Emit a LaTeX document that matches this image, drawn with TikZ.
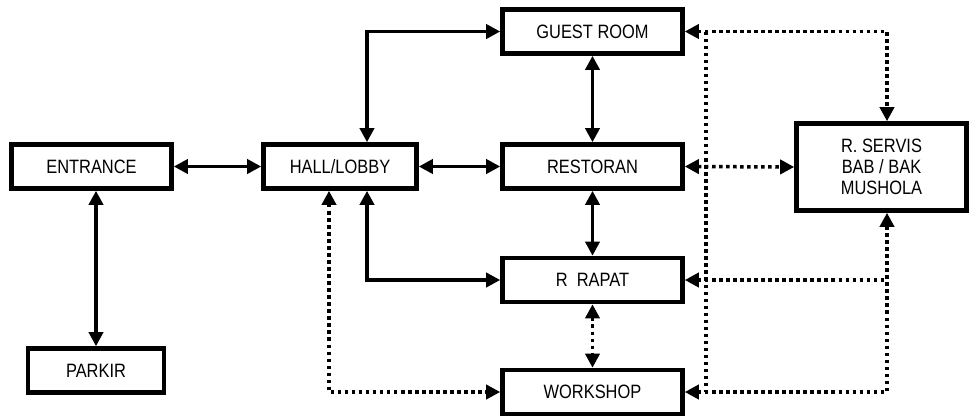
\documentclass[tikz,border=0pt]{standalone}
\usepackage{fontspec}
\setmainfont{Liberation Sans}[FakeStretch=0.85]
\usetikzlibrary{arrows.meta}

\tikzset{
  room/.style={draw=black, line width=2.6pt, fill=white, minimum height=0.88cm,
    align=center, font=\fontsize{11}{12}\selectfont},
  link/.style={line width=2pt, {Triangle[length=8pt,width=8pt]}-{Triangle[length=8pt,width=8pt]}},
  dotline/.style={line width=2pt, dash pattern=on 2pt off 2pt},
  dotlink/.style={dotline, {Triangle[length=8pt,width=8pt]}-{Triangle[length=8pt,width=8pt]}}
}

\begin{document}
\begin{tikzpicture}[x=0.02cm, y=-0.02cm]
  \useasboundingbox (0,0) rectangle (971,417);

  % rooms
  \node[room, minimum width=3.2cm]  (entrance) at (91.5,166.5) {ENTRANCE};
  \node[room, minimum width=2.72cm] (parkir)   at (96,370.5)   {PARKIR};
  \node[room, minimum width=3.06cm] (hall)     at (340,166.5)  {HALL/LOBBY};
  \node[room, minimum width=3.6cm]  (guest)    at (592.5,31.5) {GUEST ROOM};
  \node[room, minimum width=3.6cm]  (restoran) at (592.5,166.5) {RESTORAN};
  \node[room, minimum width=3.6cm]  (rapat)    at (592.5,280)  {R\ \ RAPAT};
  \node[room, minimum width=3.6cm]  (workshop) at (592.5,392)  {WORKSHOP};
  \node[room, minimum width=3.4cm, minimum height=1.74cm] (servis) at (881.5,167)
    {R. SERVIS\\BAB / BAK\\MUSHOLA};

  % helper columns
  \coordinate (hx) at (367,0);
  \coordinate (dx) at (329,0);
  \coordinate (sp) at (706,0);
  \coordinate (sx) at (887,0);

  % solid links
  \draw[link] (entrance) -- (hall);
  \draw[link] (parkir.north |- entrance.south) -- (parkir.north);
  \draw[link] (hall) -- (restoran);
  \draw[link] (hall.north -| hx) |- (guest.west);
  \draw[link] (hall.south -| hx) |- (rapat.west);
  \draw[link] (guest) -- (restoran);
  \draw[link] (restoran) -- (rapat);

  % dotted links
  \draw[dotlink] (hall.south -| dx) |- (workshop.west);
  \draw[dotlink] (rapat) -- (workshop);
  \draw[dotlink] (guest.east) -| (servis.north -| sx);
  \draw[dotlink] (restoran.east) -- (servis.west);
  \draw[dotlink] (workshop.east) -| (servis.south -| sx);
  \draw[dotline, {Triangle[length=8pt,width=8pt]}-] (rapat.east) -- (rapat.east -| sx);
  \draw[dotline] (guest.east -| sp) -- (workshop.east -| sp);
\end{tikzpicture}
\end{document}
